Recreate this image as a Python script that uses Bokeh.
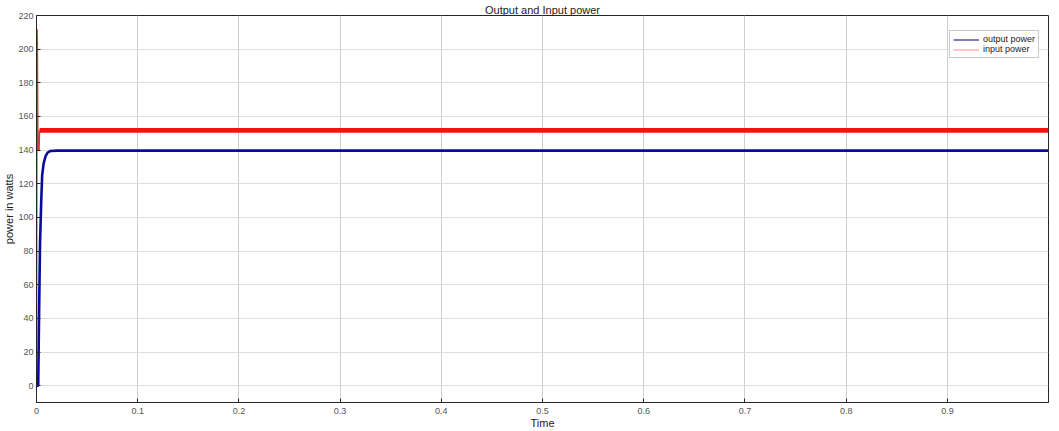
from bokeh.plotting import figure
from bokeh.models import Range1d, FixedTicker, Legend, LegendItem
from bokeh.embed import file_html
from bokeh.resources import INLINE

# ---- data ----
out_t = [0, 0.0017, 0.0025, 0.0035, 0.0047, 0.0056, 0.007, 0.009, 0.011, 0.014, 0.02, 0.9999]
out_p = [0, 0, 40, 85, 110, 125, 132, 136.5, 138.5, 139.5, 139.7, 139.7]

in_t = [0, 0.0005, 0.0008, 0.0014, 0.0025, 0.003, 0.0035]
in_p = [0, 212, 205, 140, 140, 151.5, 151.5]

ripple_t = [0.003, 0.9999]
ripple_lo = [150.3, 150.3]
ripple_hi = [153.2, 153.2]

x_ticks = [0, 0.1, 0.2, 0.3, 0.4, 0.5, 0.6, 0.7, 0.8, 0.9]
x_tick_labels = ["0", "0.1", "0.2", "0.3", "0.4", "0.5", "0.6", "0.7", "0.8", "0.9"]
y_ticks = [0, 20, 40, 60, 80, 100, 120, 140, 160, 180, 200, 220]

FONT = "Liberation Sans"

p = figure(width=1059, height=431, output_backend="svg", toolbar_location=None,
           x_range=Range1d(0, 0.9999), y_range=Range1d(-10, 220),
           min_border_left=36, min_border_right=11, min_border_top=15, min_border_bottom=29,
           title="Output and Input power", x_axis_label="Time", y_axis_label="power in watts")

p.title.align = "center"
p.title.text_font = FONT
p.title.text_font_size = "11px"
p.title.text_font_style = "normal"
p.title.text_color = "#222222"
p.title.standoff = 0
p.title.offset = 0

p.outline_line_color = "#262626"
p.outline_line_width = 1
p.background_fill_color = "white"
p.border_fill_color = "white"

for ax in (p.xaxis[0], p.yaxis[0]):
    ax.axis_line_color = "#262626"
    ax.major_tick_in = 4
    ax.major_tick_out = 0
    ax.minor_tick_line_color = None
    ax.major_tick_line_color = "#262626"
    ax.major_label_text_font = FONT
    ax.major_label_text_font_size = "9px"
    ax.major_label_text_color = "#555555"
    ax.axis_label_text_font = FONT
    ax.axis_label_text_font_size = "11px"
    ax.axis_label_text_font_style = "normal"
    ax.axis_label_text_color = "#222222"

p.xaxis[0].ticker = FixedTicker(ticks=x_ticks)
p.xaxis[0].major_label_overrides = {t: l for t, l in zip(x_ticks, x_tick_labels)}
p.xaxis[0].major_label_standoff = 5
p.xaxis[0].axis_label_standoff = 0
p.yaxis[0].ticker = FixedTicker(ticks=y_ticks)
p.yaxis[0].major_label_standoff = 3
p.yaxis[0].axis_label_standoff = 0

p.xgrid.ticker = FixedTicker(ticks=x_ticks)
p.ygrid.ticker = FixedTicker(ticks=y_ticks)
p.xgrid.grid_line_color = "#cfcfcf"
p.ygrid.grid_line_color = "#dddddd"

# series
p.varea(x=ripple_t, y1=ripple_lo, y2=ripple_hi, fill_color="#ff1010")
p.line(in_t, in_p, line_color="#d03a3a", line_width=1.5)
p.line(out_t, out_p, line_color="#0a0a9e", line_width=2.6)

# legend proxies: thin lines drawn outside the visible range
r_out = p.line([5, 6], [0, 0], line_color="#2a2a80", line_width=1.2)
r_in = p.line([5, 6], [0, 0], line_color="#ff9a9a", line_width=1.2)
legend = Legend(items=[LegendItem(label="output power", renderers=[r_out]),
                       LegendItem(label="input power", renderers=[r_in])],
                location=(913, 344))
legend.label_text_font = FONT
legend.label_text_font_size = "9px"
legend.label_text_color = "#222222"
legend.label_height = 9
legend.glyph_height = 9
legend.glyph_width = 26
legend.spacing = 0
legend.padding = 3
legend.margin = 0
legend.label_standoff = 4
legend.border_line_color = "#9a9a9a"
legend.background_fill_alpha = 1
p.add_layout(legend)

open("out.html", "w").write(file_html(p, INLINE))
